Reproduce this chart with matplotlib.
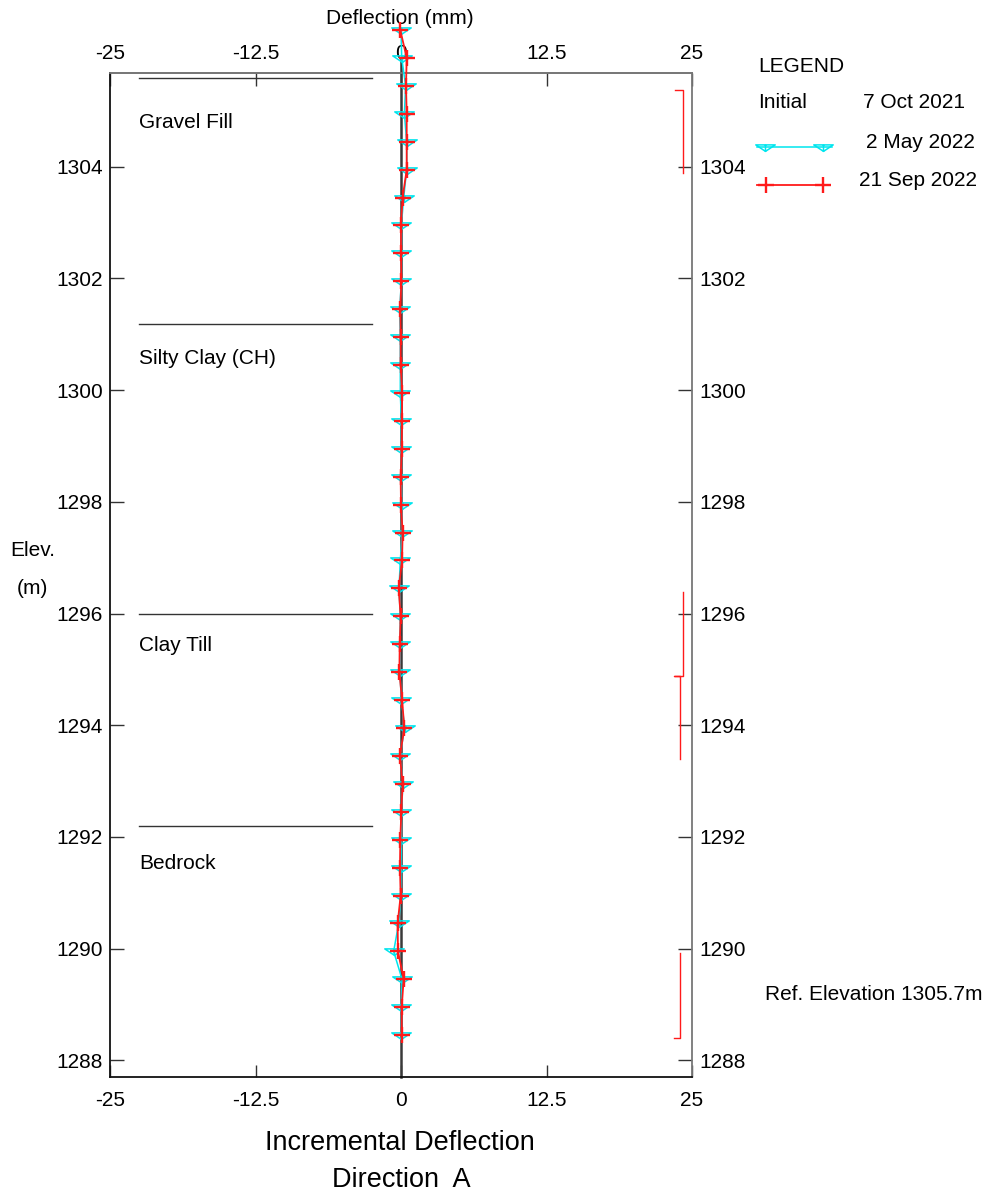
import numpy as np
import matplotlib
matplotlib.use("Agg")
import matplotlib.pyplot as plt
from matplotlib.path import Path
from matplotlib.lines import Line2D

plt.rcParams['font.family'] = ['Liberation Sans', 'DejaVu Sans']

# ---- data -------------------------------------------------------------
# reading elevations (m), every 0.5 m from the top sensor down
elevation = [1306.45 - 0.5 * i for i in range(37)]

# incremental deflection (mm), 2 May 2022
defl_may = [0.00, 0.06, 0.40, 0.29, 0.49, 0.49, 0.23, 0.03, 0.03, 0.03,
            -0.11, -0.06, -0.06, -0.06, 0.03, 0.03, 0.00, 0.06, 0.11, -0.06,
            -0.17, -0.06, -0.09, -0.09, 0.03, 0.32, -0.09, 0.17, 0.03, 0.03,
            0.00, 0.00, -0.20, -0.63, 0.09, 0.03, 0.03]

# incremental deflection (mm), 21 Sep 2022
defl_sep = [-0.06, 0.49, 0.43, 0.49, 0.49, 0.49, 0.14, 0.00, 0.00, 0.03,
            -0.06, -0.03, -0.03, 0.09, 0.09, 0.06, -0.03, 0.00, 0.14, 0.09,
            -0.20, -0.03, -0.11, -0.14, 0.09, 0.29, -0.09, 0.14, 0.03, -0.06,
            -0.09, -0.03, -0.29, -0.26, 0.23, 0.06, 0.06]

initial_top = 1305.95           # top of the initial (zero) profile

# stratigraphy
layer_names = ['Gravel Fill', 'Silty Clay (CH)', 'Clay Till', 'Bedrock']
layer_tops = [1305.59, 1301.19, 1295.99, 1292.19]
layer_label_y = [1304.80, 1300.57, 1295.43, 1291.53]
layer_x = [-22.5, -2.5]

# red interval brackets on the right side: (x list, y list)
bracket_x = [[23.50, 24.23, 24.23],
             [24.23, 24.23, 23.45, 23.97, 23.97],
             [23.97, 23.97, 23.45]]
bracket_y = [[1305.38, 1305.38, 1303.89],
             [1296.38, 1294.89, 1294.89, 1294.89, 1293.39],
             [1289.92, 1288.40, 1288.40]]

x_ticks = [-25, -12.5, 0, 12.5, 25]
x_tick_labels = ['-25', '-12.5', '0', '12.5', '25']
y_ticks = [1288, 1290, 1292, 1294, 1296, 1298, 1300, 1302, 1304]

legend_dates = ['7 Oct 2021', '2 May 2022', '21 Sep 2022']

FS = 15          # body text size
FS_TITLE = 19.5  # axis caption size

# ---- figure -----------------------------------------------------------
W, H = 990, 1198
fig = plt.figure(figsize=(W / 100, H / 100), dpi=100)

left, right, top, bottom = 110, 692, 73, 1077
ax = fig.add_axes([left / W, 1 - bottom / H, (right - left) / W, (bottom - top) / H])
ax.set_xlim(-25, 25)
ax.set_ylim(1287.70, 1305.68)

# flattened downward triangle with a centre stem
tri_path = Path([(-1.5, 0.4), (1.5, 0.4), (0.0, -0.6), (-1.5, 0.4),
                 (0.0, 0.4), (0.0, -0.6)],
                [Path.MOVETO, Path.LINETO, Path.LINETO, Path.CLOSEPOLY,
                 Path.MOVETO, Path.LINETO])

ax.plot([0, 0], [ax.get_ylim()[0], initial_top], color='#3a3a3a', lw=1.8,
        clip_on=False, zorder=2)
ax.plot(defl_may, elevation, color='#00e5ee', lw=1.1, marker=tri_path,
        markersize=14, markerfacecolor='none', markeredgecolor='#00e5ee',
        markeredgewidth=1.1, clip_on=False, zorder=3)
ax.plot(defl_sep, elevation, color='#ff1a1a', lw=1.3, marker='+',
        markersize=11, markeredgewidth=1.7, clip_on=False, zorder=4)

for name, ytop, ylab in zip(layer_names, layer_tops, layer_label_y):
    ax.plot(layer_x, [ytop, ytop], color='#333333', lw=1.0)
    ax.text(layer_x[0], ylab, name, fontsize=FS, va='center', ha='left')

for bx, by in zip(bracket_x, bracket_y):
    ax.plot(bx, by, color='#ff1a1a', lw=1.0)

ax.set_xticks(x_ticks)
ax.set_xticklabels(x_tick_labels)
ax.set_yticks(y_ticks)
ax.tick_params(axis='x', direction='in', length=9, width=1.0, labelsize=FS,
               top=True, labeltop=False, bottom=True, labelbottom=True, pad=10,
               color='#333333')
ax.tick_params(axis='y', direction='in', length=10, width=1.0, labelsize=FS,
               left=True, right=True, labelleft=True, labelright=True, pad=5,
               color='#333333')

# top scale labels, slightly closer to the frame than the bottom ones
sec = ax.secondary_xaxis('top')
sec.set_xticks(x_ticks)
sec.set_xticklabels(x_tick_labels)
sec.tick_params(axis='x', direction='in', length=0, labelsize=FS, pad=7)
sec.spines['top'].set_color('#777777')
sec.spines['top'].set_linewidth(1.3)

for side in ('left', 'bottom'):
    ax.spines[side].set_color('#111111')
    ax.spines[side].set_linewidth(1.3)
for side in ('right', 'top'):
    ax.spines[side].set_color('#777777')
    ax.spines[side].set_linewidth(1.3)

# ---- annotations in pixel space ---------------------------------------
ov = fig.add_axes([0, 0, 1, 1], zorder=-1)
ov.set_xlim(0, W)
ov.set_ylim(H, 0)
ov.axis('off')

ov.text(400, 18, 'Deflection (mm)', fontsize=FS, ha='center', va='center')
ov.text(10, 551, 'Elev.', fontsize=FS, ha='left', va='center')
ov.text(17, 589, '(m)', fontsize=FS, ha='left', va='center')
ov.text(400, 1143, 'Incremental Deflection', fontsize=FS_TITLE, ha='center', va='center')
ov.text(401, 1180, 'Direction  A', fontsize=FS_TITLE, ha='center', va='center')
ov.text(765, 995, 'Ref. Elevation 1305.7m', fontsize=FS, ha='left', va='center')

ov.text(758, 67, 'LEGEND', fontsize=FS, ha='left', va='center')
ov.text(758, 103, 'Initial', fontsize=FS, ha='left', va='center')
ov.text(863, 103, legend_dates[0], fontsize=FS, ha='left', va='center')
ov.text(866, 142, legend_dates[1], fontsize=FS, ha='left', va='center')
ov.text(859, 180, legend_dates[2], fontsize=FS, ha='left', va='center')

fig.add_artist(Line2D([757 / W, 832 / W], [1 - 146.5 / H, 1 - 146.5 / H],
                      transform=fig.transFigure, color='#00e5ee', lw=1.1))
fig.add_artist(Line2D([765 / W, 823 / W], [1 - 146.5 / H, 1 - 146.5 / H],
                      transform=fig.transFigure, ls='none', marker=tri_path,
                      markersize=14, markerfacecolor='none',
                      markeredgecolor='#00e5ee', markeredgewidth=1.1))
fig.add_artist(Line2D([757 / W, 830 / W], [1 - 185 / H, 1 - 185 / H],
                      transform=fig.transFigure, color='#ff1a1a', lw=1.3))
fig.add_artist(Line2D([766 / W, 823 / W], [1 - 185 / H, 1 - 185 / H],
                      transform=fig.transFigure, ls='none', marker='+',
                      markersize=11, markeredgewidth=1.7, color='#ff1a1a'))

fig.savefig('out.png', dpi=100)
